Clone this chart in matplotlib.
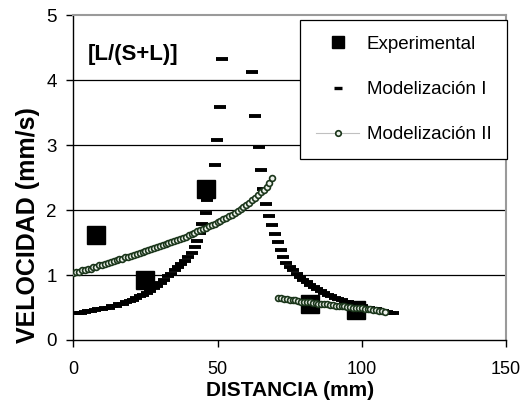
import matplotlib
matplotlib.use("Agg")
import matplotlib.pyplot as plt
from matplotlib.lines import Line2D
import numpy as np

plt.rcParams['font.family'] = ['Liberation Sans', 'DejaVu Sans']

# Experimental
exp_x = [8, 25, 46, 82, 98]
exp_y = [1.62, 0.92, 2.32, 0.55, 0.46]

# Modelizacion I - left branch
m1a_x = [1.5, 2.7, 3.9, 5.1, 6.3, 7.5, 8.7, 9.9, 11.1, 12.3, 13.5, 14.7, 15.9, 17.1,
         18.3, 19.5, 20.7, 21.9, 23.1, 24.3, 25.5, 26.7, 27.9, 29.1, 30.3, 31.5, 32.7,
         33.9, 35.1, 36.3, 37.5, 38.6, 39.8, 41.0, 42.1, 42.9, 43.8, 44.7, 45.9, 46.4,
         47.3, 49.1, 49.8, 50.9, 51.6]
m1a_y = [0.41, 0.42, 0.43, 0.44, 0.45, 0.46, 0.47, 0.48, 0.49, 0.50, 0.52, 0.53, 0.55, 0.56,
         0.58, 0.60, 0.62, 0.64, 0.67, 0.70, 0.73, 0.76, 0.80, 0.83, 0.88, 0.93, 0.98,
         1.02, 1.08, 1.12, 1.17, 1.21, 1.27, 1.34, 1.43, 1.53, 1.65, 1.79, 1.96, 2.15,
         2.40, 2.69, 3.08, 3.59, 4.32]
# Modelizacion I - right branch
m1b_x = [61.8, 63.1, 64.4, 65.1, 65.9, 66.8, 68.0, 69.0, 70.0, 71.0, 71.9, 72.8, 73.8,
         75.0, 76.2, 77.4, 78.6, 79.8, 81.0, 82.2, 83.4, 84.6, 85.8, 87.0, 88.2, 89.4,
         90.6, 91.8, 93.0, 94.2, 95.4, 96.6, 97.8, 99.0, 100.2, 101.4, 102.6, 103.8,
         105.0, 106.2, 107.4, 108.6, 109.8, 110.8]
m1b_y = [4.12, 3.45, 2.97, 2.61, 2.32, 2.10, 1.91, 1.77, 1.63, 1.51, 1.39, 1.28, 1.18,
         1.12, 1.07, 1.02, 0.97, 0.93, 0.89, 0.85, 0.81, 0.78, 0.75, 0.72, 0.69, 0.67,
         0.65, 0.63, 0.61, 0.59, 0.58, 0.56, 0.55, 0.53, 0.52, 0.50, 0.49, 0.48,
         0.47, 0.45, 0.44, 0.43, 0.42, 0.41]

# Modelizacion II - left branch
m2a_x = list(range(0, 70))
m2a_y = [1.03, 1.04, 1.05, 1.07, 1.08, 1.09, 1.10, 1.12, 1.13, 1.15,
         1.16, 1.17, 1.19, 1.20, 1.21, 1.23, 1.24, 1.25, 1.27, 1.28,
         1.29, 1.31, 1.32, 1.34, 1.35, 1.37, 1.38, 1.40, 1.41, 1.43,
         1.44, 1.46, 1.47, 1.49, 1.51, 1.52, 1.54, 1.56, 1.57, 1.59,
         1.61, 1.63, 1.65, 1.67, 1.69, 1.71, 1.73, 1.75, 1.77, 1.79,
         1.81, 1.83, 1.86, 1.88, 1.91, 1.93, 1.96, 1.99, 2.02, 2.05,
         2.08, 2.11, 2.15, 2.19, 2.23, 2.27, 2.31, 2.36, 2.41, 2.50]
# Modelizacion II - right branch
m2b_x = list(range(71, 109))
m2b_y = [0.65, 0.64, 0.63, 0.63, 0.62, 0.61, 0.61, 0.60, 0.59, 0.59,
         0.58, 0.58, 0.57, 0.57, 0.56, 0.56, 0.55, 0.55, 0.54, 0.54,
         0.53, 0.53, 0.52, 0.52, 0.51, 0.51, 0.50, 0.50, 0.49, 0.49,
         0.48, 0.48, 0.47, 0.46, 0.46, 0.45, 0.44, 0.43]

x_ticks = [0, 50, 100, 150]
y_ticks = [0, 1, 2, 3, 4, 5]

fig = plt.figure(figsize=(5.31, 4.08), dpi=100)
ax = fig.add_axes([73.3/531, 1-340/408, (506-73.3)/531, 325/408])

green = '#1a351a'
ax.plot(exp_x, exp_y, linestyle='none', marker='s', ms=12.5, color='black', zorder=3)
for xs, ys in [(m1a_x, m1a_y), (m1b_x, m1b_y)]:
    ax.plot(xs, ys, linestyle='none', marker='_', ms=8, mew=2.8, color='black', zorder=4)
for xs, ys in [(m2a_x, m2a_y), (m2b_x, m2b_y)]:
    ax.plot(xs, ys, linestyle='-', lw=0.8, color='#c0c0c0', marker='o', ms=4.2,
            mew=1.2, mec=green, mfc='#eef2ec', zorder=5)

ax.set_xlim(0, 150)
ax.set_ylim(0, 5)
ax.set_xticks(x_ticks)
ax.set_yticks(y_ticks)
ax.tick_params(axis='both', labelsize=13.5, direction='out', length=5, width=1)
ax.tick_params(axis='y', pad=7)
ax.tick_params(axis='x', pad=10, labelsize=13)
for yv in y_ticks[1:-1]:
    ax.axhline(yv, color='black', lw=0.9, zorder=1)

for s in ['left', 'bottom']:
    ax.spines[s].set_color('black')
    ax.spines[s].set_linewidth(1)
for s in ['top', 'right']:
    ax.spines[s].set_color('#9a9a9a')
    ax.spines[s].set_linewidth(1.5)

ax.set_xlabel('DISTANCIA (mm)', fontsize=15, fontweight='bold')
ax.xaxis.set_label_coords(0.5, -0.127)
ax.set_ylabel('VELOCIDAD (mm/s)', fontsize=18, fontweight='bold')
ax.yaxis.set_label_coords(-0.077, 0.355)

ax.text(5.1, 4.4, '[L/(S+L)]', fontsize=16, fontweight='bold', va='center', ha='left')

handles = [
    Line2D([], [], linestyle='none', marker='s', ms=8.5, color='black'),
    Line2D([], [], linestyle='none', marker='_', ms=6, mew=2.4, color='black'),
    Line2D([], [], linestyle='-', lw=0.8, color='#c0c0c0', marker='o', ms=4,
           mew=1.2, mec=green, mfc='#eef2ec'),
]
labels = ['Experimental', 'Modelización I', 'Modelización II']
leg = ax.legend(handles, labels, loc='upper left', bbox_to_anchor=(0.524, 0.985),
                fontsize=13.5, frameon=True, fancybox=False, framealpha=1,
                edgecolor='black', borderpad=0.85, labelspacing=1.5,
                handlelength=2.3, handletextpad=0.4, borderaxespad=0)
leg.get_frame().set_linewidth(0.9)
leg.set_zorder(10)

fig.savefig('out.png', dpi=100)
